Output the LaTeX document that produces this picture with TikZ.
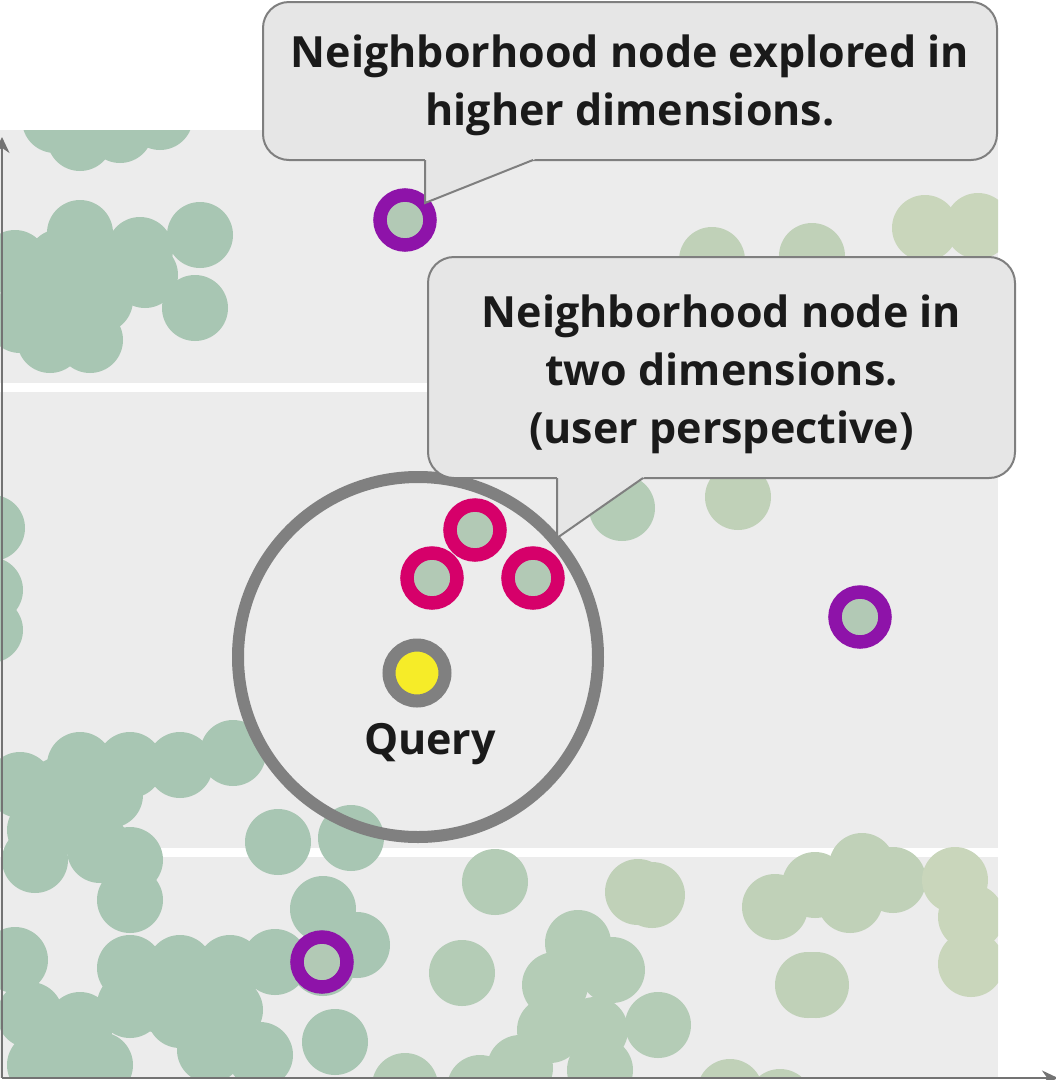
\documentclass[tikz,border=0pt]{standalone}
\usepackage{fontspec}
\setmainfont{Open Sans}
\usetikzlibrary{arrows.meta,shadows}

\definecolor{plotbg}{RGB}{236,236,236}
\definecolor{gA}{RGB}{168,198,179}
\definecolor{gB}{RGB}{180,204,182}
\definecolor{gC}{RGB}{192,209,184}
\definecolor{gD}{RGB}{201,214,187}
\definecolor{dotgreen}{RGB}{178,201,181}
\definecolor{ringgray}{RGB}{128,128,128}
\definecolor{boxfill}{RGB}{230,230,230}
\definecolor{boxline}{RGB}{127,127,127}
\definecolor{hoodred}{RGB}{214,0,106}
\definecolor{farpurple}{RGB}{142,19,169}
\definecolor{queryyellow}{RGB}{246,236,40}
\definecolor{ink}{RGB}{26,26,26}

\begin{document}
\begin{tikzpicture}[x=1pt,y=-1pt,
  label text/.style={text=ink, align=center, font=\fontsize{43}{58}\selectfont\bfseries},
  callout/.style={draw=boxline, line width=2pt, fill=boxfill, rounded corners=26pt, inner sep=0pt},
  pointer edge/.style={draw=boxline, line width=2pt, line join=miter},
  ringdot/.style={circle, inner sep=0pt, minimum size=50pt, line width=13.5pt, fill=dotgreen,
    drop shadow={shadow xshift=2.5pt, shadow yshift=-2.5pt, fill=dotgreen, opacity=0.8}},
  hood/.style={ringdot, draw=hoodred},
  far/.style={ringdot, draw=farpurple},
  axisline/.style={draw=ringgray!90!black, line width=2.5pt}]

\useasboundingbox (0,0) rectangle (1056,1080);

% plot area and grid lines
\fill[plotbg] (0,130) rectangle (998,1078);
\draw[white, line width=9pt] (0,387) -- (998,387);
\draw[white, line width=9pt] (0,852) -- (998,852);

% scattered points, one colour per group (blue-green left, yellow-green right)
\begin{scope}
\clip (0,130) rectangle (998,1078);
\foreach \px/\py in {
  55/120, 80/138, 120/130, 160/117,
  15/263, 80/233, 140/250, 110/265, 145/275, 200/235, 195/308,
  20/320, 60/290, 100/300, 50/340, 90/340, 60/262,
  -8/528, -10/590, -10/630,
  20/785, 80/765, 130/765, 180/765, 233/753, 60/790, 110/795,
  40/830, 90/830, 35/860, 130/860, 130/900, 100/850,
  130/968, 180/968, 230/968, 275/962,
  15/960, 30/1015, 80/1025, 130/1005, 180/1015, 210/1050, 260/1055, 100/1065, 40/1065,
  160/1000, 230/1010,
  278/842, 351/838, 323/909, 357/945, 323/963, 335/1042}
  \fill[gA] (\px,\py) circle[radius=33pt];
\foreach \px/\py in {
  622/508, 405/1086, 462/973, 480/1088, 495/882,
  578/943, 612/970, 555/985, 550/1030, 595/1030, 658/1025, 520/1068, 600/1070}
  \fill[gB] (\px,\py) circle[radius=33pt];
\foreach \px/\py in {
  712/260, 812/256, 738/497, 638/892, 652/895, 730/1092, 780/1102,
  775/907, 815/885, 862/866, 850/900, 893/880, 808/985, 816/985}
  \fill[gC] (\px,\py) circle[radius=33pt];
\foreach \px/\py in {
  925/228, 978/226, 955/880, 971/917, 971/964}
  \fill[gD] (\px,\py) circle[radius=33pt];
\end{scope}

% axes
\coordinate (origin) at (2,1078);
\coordinate (ytip) at (2,137);
\coordinate (xtip) at (1058,1078);
\draw[axisline, -{Stealth[length=16pt,width=15pt]}] (origin) -- (ytip);
\draw[axisline, -{Stealth[length=16pt,width=15pt]}] (origin) -- (xtip);

% two-dimensional neighbourhood around the query
\node[circle, draw=ringgray, line width=12pt, minimum size=360pt, inner sep=0pt] (zone) at (418,657) {};

% query point
\node[circle, inner sep=0pt, minimum size=56pt, line width=13pt, draw=ringgray, fill=queryyellow,
  drop shadow={shadow xshift=2.5pt, shadow yshift=-2.5pt, fill=dotgreen, opacity=0.8}] (query) at (417,673) {};
\node[label text] (qlabel) at (430,744) {Query};

% neighbours in two dimensions
\node[hood] (n1) at (475,530) {};
\node[hood] (n2) at (432,578) {};
\node[hood] (n3) at (533,578) {};

% neighbours in higher dimensions
\node[far] (f1) at (405,220) {};
\node[far] (f2) at (860,617) {};
\node[far] (f3) at (322,962) {};

% callout for higher dimensions
\node[callout, minimum width=734pt, minimum height=158pt] (c1) at (630,81) {};
\node[label text, yshift=-4pt] (c1text) at (c1) {Neighborhood node explored in\\higher dimensions.};
\coordinate (c1tip) at (425,203);
\coordinate (c1a) at (425,160);
\coordinate (c1b) at (533,160);
\fill[boxfill] (425,157) -- (540.5,157) -- (c1tip) -- cycle;
\draw[pointer edge] (c1a) -- (c1tip) -- (c1b);

% callout for two dimensions
\node[callout, minimum width=587pt, minimum height=221pt] (c2) at (721.5,367.5) {};
\node[label text, yshift=-7pt] (c2text) at (c2) {Neighborhood node in\\two dimensions.\\(user perspective)};
\coordinate (c2tip) at (557,538);
\coordinate (c2a) at (557,478);
\coordinate (c2b) at (643,478);
\fill[boxfill] (557,475) -- (647.3,475) -- (c2tip) -- cycle;
\draw[pointer edge] (c2a) -- (c2tip) -- (c2b);
\end{tikzpicture}
\end{document}
